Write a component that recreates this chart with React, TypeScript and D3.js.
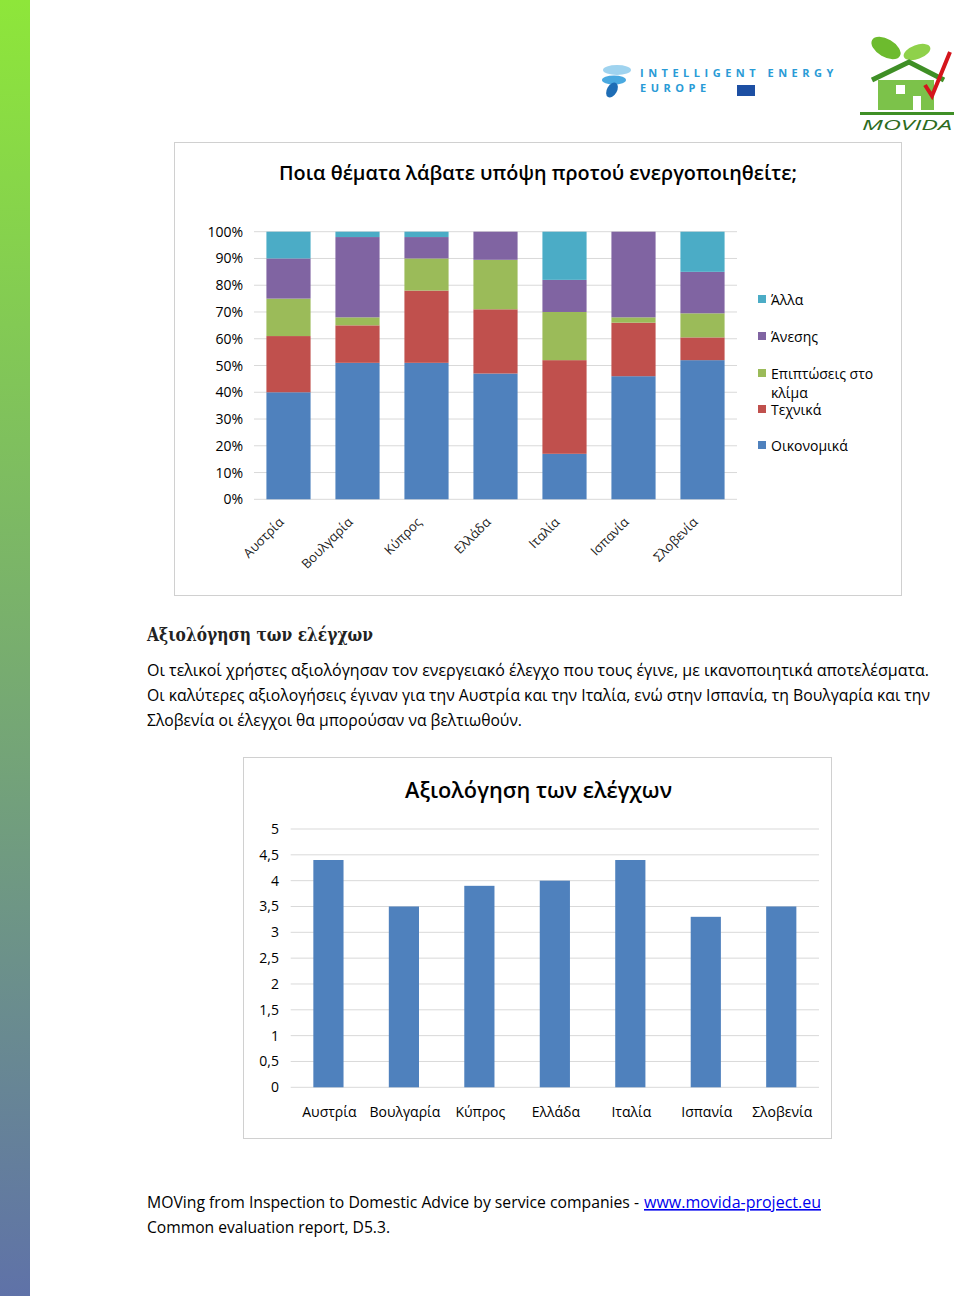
import React from 'react';
import * as d3 from 'd3';

const countries = ['Αυστρία', 'Βουλγαρία', 'Κύπρος', 'Ελλάδα', 'Ιταλία', 'Ισπανία', 'Σλοβενία'];
const oikonomika = [40, 51, 51, 47, 17, 46, 52];
const technika = [21, 14, 27, 24, 35, 20, 8.5];
const klima = [14, 3, 12, 18.5, 18, 2, 9];
const anesi = [15, 30, 8, 10.5, 12, 32, 15.5];
const alla = [10, 2, 2, 0, 18, 0, 15];
const seriesKeys = ['Οικονομικά', 'Τεχνικά', 'Επιπτώσεις στο κλίμα', 'Άνεσης', 'Άλλα'];
const seriesColors = ['#4f81bd', '#c0504d', '#9bbb59', '#8064a2', '#4bacc6'];
const pctTicks = [0, 10, 20, 30, 40, 50, 60, 70, 80, 90, 100];

const ratings = [4.4, 3.5, 3.9, 4.0, 4.4, 3.3, 3.5];
const ratingTicks = [0, 0.5, 1, 1.5, 2, 2.5, 3, 3.5, 4, 4.5, 5];

const FONT = '"Open Sans", "DejaVu Sans", sans-serif';

export default function App() {
  // stacked chart
  const rows = countries.map((c, i) => ({
    country: c,
    'Οικονομικά': oikonomika[i],
    'Τεχνικά': technika[i],
    'Επιπτώσεις στο κλίμα': klima[i],
    'Άνεσης': anesi[i],
    'Άλλα': alla[i],
  }));
  const stacked = d3.stack<any>().keys(seriesKeys)(rows);
  const x1 = d3.scaleBand().domain(countries).range([254, 737]).paddingInner(0.36).paddingOuter(0.18);
  const y1 = d3.scaleLinear().domain([0, 100]).range([499.3, 231.7]);

  // simple bar chart
  const x2 = d3.scaleBand().domain(countries).range([290.7, 819]).paddingInner(0.6).paddingOuter(0.3);
  const y2 = d3.scaleLinear().domain([0, 5]).range([1087.3, 829]);

  const legendItems = [
    { key: 'Άλλα', color: seriesColors[4], y: 305, lines: ['Άλλα'] },
    { key: 'Άνεσης', color: seriesColors[3], y: 342, lines: ['Άνεσης'] },
    { key: 'Επιπτώσεις', color: seriesColors[2], y: 379, lines: ['Επιπτώσεις στο', 'κλίμα'] },
    { key: 'Τεχνικά', color: seriesColors[1], y: 415, lines: ['Τεχνικά'] },
    { key: 'Οικονομικά', color: seriesColors[0], y: 451, lines: ['Οικονομικά'] },
  ];

  return (
    <svg width={960} height={1302} style={{ position: 'absolute', left: 0, top: 0, background: '#fff' }}
      fontFamily={FONT}>
      <defs>
        <linearGradient id="sidebar" x1="0" y1="0" x2="0" y2="1">
          <stop offset="0" stopColor="#8ee63a" />
          <stop offset="0.5" stopColor="#78ae6e" />
          <stop offset="1" stopColor="#5f72a8" />
        </linearGradient>
      </defs>
      <rect x={0} y={0} width={960} height={1302} fill="#fff" />
      <rect x={0} y={0} width={30} height={1296} fill="url(#sidebar)" />

      {/* Intelligent Energy Europe logo */}
      <g>
        <ellipse cx={617} cy={70} rx={14} ry={5} fill="#9fd3ef" />
        <ellipse cx={614} cy={80} rx={12} ry={4.5} fill="#4aa9e0" />
        <ellipse cx={612} cy={90} rx={5} ry={8} fill="#1e6db5" transform="rotate(30 612 90)" />
        <text x={640} y={77} fontSize={11} fontWeight="bold" fill="#2a9bd6" letterSpacing={4.5}>INTELLIGENT ENERGY</text>
        <text x={640} y={92} fontSize={11} fontWeight="bold" fill="#2a9bd6" letterSpacing={4.5}>EUROPE</text>
        <rect x={737} y={85} width={18} height={11} fill="#1d4fa3" />
      </g>

      {/* MOVIDA logo */}
      <g>
        <ellipse cx={886} cy={48} rx={16} ry={9} fill="#6dbb2e" transform="rotate(30 886 48)" />
        <ellipse cx={917} cy={52} rx={14} ry={7} fill="#8fd14a" transform="rotate(-20 917 52)" />
        <path d="M872,80 L909,62 L944,80" fill="none" stroke="#3f8f26" strokeWidth={5} />
        <rect x={878} y={80} width={56} height={30} fill="#7cc24a" />
        <rect x={896} y={85} width={9} height={9} fill="#fff" />
        <rect x={913} y={96} width={8} height={14} fill="#fff" />
        <path d="M925,85 L932,96 L950,52" fill="none" stroke="#d4151c" strokeWidth={4} />
        <rect x={860} y={112} width={94} height={3} fill="#3f8f26" />
        <text x={907} y={130} fontSize={15} fontStyle="italic" textAnchor="middle" fill="#2d6b1e"
          textLength={90} lengthAdjust="spacingAndGlyphs">MOVIDA</text>
      </g>

      {/* Chart 1 frame */}
      <rect x={174.5} y={142.5} width={727} height={453} fill="#fff" stroke="#d0d0d0" />
      <text x={279} y={180} fontSize={20} fontWeight={600} fill="#000" textLength={518} lengthAdjust="spacingAndGlyphs">
        Ποια θέματα λάβατε υπόψη προτού ενεργοποιηθείτε;
      </text>

      {pctTicks.map(t => (
        <g key={t}>
          <line x1={254} x2={737} y1={y1(t)} y2={y1(t)} stroke="#d9d9d9" />
          <text x={243} y={y1(t) + 5} fontSize={14} textAnchor="end" fill="#000">{t}%</text>
        </g>
      ))}

      {stacked.map((s, si) => (
        <g key={s.key} fill={seriesColors[si]}>
          {s.map((d, i) => (
            <rect key={i} x={x1(countries[i])} width={x1.bandwidth()}
              y={y1(d[1])} height={Math.max(0, y1(d[0]) - y1(d[1]))} />
          ))}
        </g>
      ))}

      {countries.map(c => {
        const cx = (x1(c) as number) + x1.bandwidth() / 2 - 4;
        const cy = 523;
        return (
          <text key={c} x={cx} y={cy} fontSize={13} textAnchor="end" fill="#222"
            transform={`rotate(-45 ${cx} ${cy})`}>{c}</text>
        );
      })}

      {legendItems.map(l => (
        <g key={l.key}>
          <rect x={758} y={l.y - 10} width={8} height={8} fill={l.color} />
          {l.lines.map((ln, i) => (
            <text key={i} x={771} y={l.y + i * 19} fontSize={14} fill="#000">{ln}</text>
          ))}
        </g>
      ))}

      {/* Section text */}
      <text x={147} y={641} fontSize={19} fontWeight="bold" fontFamily='"DejaVu Serif", "Liberation Serif", serif'
        fill="#222" textLength={226} lengthAdjust="spacingAndGlyphs">Αξιολόγηση των ελέγχων</text>
      <text x={147} y={676} fontSize={16} fill="#000" textLength={782} lengthAdjust="spacingAndGlyphs">
        Οι τελικοί χρήστες αξιολόγησαν τον ενεργειακό έλεγχο που τους έγινε, με ικανοποιητικά αποτελέσματα.
      </text>
      <text x={147} y={701} fontSize={16} fill="#000" textLength={783} lengthAdjust="spacingAndGlyphs">
        Οι καλύτερες αξιολογήσεις έγιναν για την Αυστρία και την Ιταλία, ενώ στην Ισπανία, τη Βουλγαρία και την
      </text>
      <text x={147} y={726} fontSize={16} fill="#000" textLength={375} lengthAdjust="spacingAndGlyphs">
        Σλοβενία οι έλεγχοι θα μπορούσαν να βελτιωθούν.
      </text>

      {/* Chart 2 frame */}
      <rect x={243.5} y={757.5} width={588} height={381} fill="#fff" stroke="#d0d0d0" />
      <text x={405} y={798} fontSize={22} fontWeight={600} fill="#000" textLength={267} lengthAdjust="spacingAndGlyphs">
        Αξιολόγηση των ελέγχων
      </text>

      {ratingTicks.map(t => (
        <g key={t}>
          <line x1={290.7} x2={819} y1={y2(t)} y2={y2(t)} stroke="#d9d9d9" />
          <text x={279} y={y2(t) + 5} fontSize={14} textAnchor="end" fill="#000">
            {String(t).replace('.', ',')}
          </text>
        </g>
      ))}

      {ratings.map((v, i) => (
        <rect key={i} x={x2(countries[i])} width={x2.bandwidth()} y={y2(v)}
          height={y2(0) - y2(v)} fill="#4f81bd" />
      ))}

      {countries.map(c => (
        <text key={c} x={(x2(c) as number) + x2.bandwidth() / 2 + 1} y={1117} fontSize={14}
          textAnchor="middle" fill="#000">{c}</text>
      ))}

      {/* Footer */}
      <text x={147} y={1208} fontSize={16} fill="#000" textLength={492} lengthAdjust="spacingAndGlyphs">
        MOVing from Inspection to Domestic Advice by service companies -
      </text>
      <text x={644} y={1208} fontSize={16} fill="#0000ee" textDecoration="underline"
        textLength={177} lengthAdjust="spacingAndGlyphs">www.movida-project.eu</text>
      <text x={147} y={1233} fontSize={16} fill="#000" textLength={243} lengthAdjust="spacingAndGlyphs">
        Common evaluation report, D5.3.
      </text>
    </svg>
  );
}
